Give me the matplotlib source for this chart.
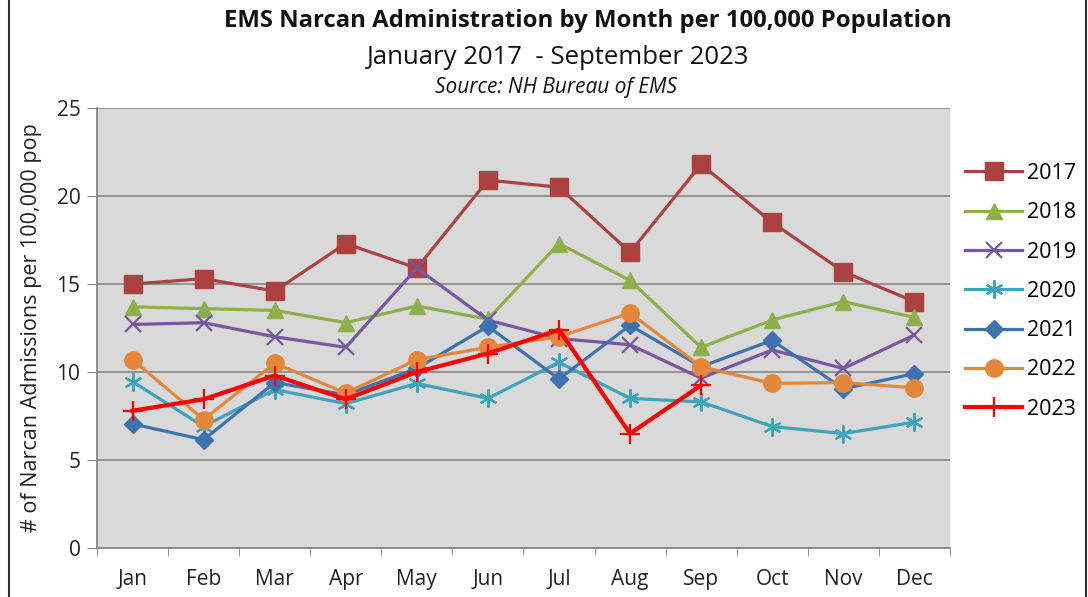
import matplotlib
matplotlib.use("Agg")
import matplotlib.pyplot as plt
from matplotlib.lines import Line2D

plt.rcParams['font.family'] = ['Open Sans', 'DejaVu Sans']

months = ['Jan', 'Feb', 'Mar', 'Apr', 'May', 'Jun', 'Jul', 'Aug', 'Sep', 'Oct', 'Nov', 'Dec']

y2017 = [15.0, 15.3, 14.6, 17.3, 15.9, 20.9, 20.5, 16.8, 21.8, 18.5, 15.7, 14.0]
y2018 = [13.7, 13.6, 13.5, 12.8, 13.75, 13.0, 17.3, 15.2, 11.4, 12.95, 14.0, 13.1]
y2019 = [12.7, 12.8, 12.0, 11.4, 15.9, 12.95, 11.9, 11.55, 9.65, 11.25, 10.2, 12.1]
y2020 = [9.45, 6.9, 9.0, 8.2, 9.35, 8.5, 10.55, 8.5, 8.3, 6.9, 6.5, 7.15]
y2021 = [7.05, 6.15, 9.4, 8.7, 10.2, 12.6, 9.6, 12.65, 10.3, 11.8, 9.05, 9.9]
y2022 = [10.7, 7.3, 10.5, 8.8, 10.7, 11.4, 12.0, 13.35, 10.3, 9.35, 9.4, 9.1]
y2023 = [7.8, 8.45, 9.8, 8.45, 10.0, 11.05, 12.4, 6.5, 9.25]

series = [
    ('2017', y2017, '#AC423F', 's', 12.5, 2.3),
    ('2018', y2018, '#8DB04A', '^', 12, 2.3),
    ('2019', y2019, '#7758A0', 'x', 11, 2.3),
    ('2020', y2020, '#3DA4BC', (6, 2, 0), 13, 2.3),
    ('2021', y2021, '#3D72B0', 'D', 9.5, 2.3),
    ('2022', y2022, '#E5873A', 'o', 12.5, 2.3),
    ('2023', y2023, '#FF0000', '+', 14, 3.0),
]

fig = plt.figure(figsize=(10.88, 5.97), dpi=100)
ax = fig.add_axes([0.0892, 0.0821, 0.7838, 0.737])
ax.set_facecolor('#D9D9D9')

x = list(range(len(months)))
for label, vals, color, marker, ms, lw in series:
    mew = 1.6 if marker in ('x', '+') or isinstance(marker, tuple) else 1
    ax.plot(x[:len(vals)], vals, color=color, lw=lw, marker=marker,
            markersize=ms, markeredgewidth=mew, markeredgecolor=color,
            markerfacecolor=color, label=label)

ax.set_xlim(-0.5, 11.5)
ax.set_ylim(0, 25)
ax.set_yticks(range(0, 26, 5))
ax.set_xticks(x)
ax.set_xticklabels(months)
ax.set_xticks([i - 0.5 for i in range(13)], minor=True)
ax.tick_params(axis='x', which='major', length=0, labelsize=15, pad=15, colors='#222222')
ax.tick_params(axis='x', which='minor', length=6, color='#868686')
ax.tick_params(axis='y', length=7, color='#868686', labelsize=15, colors='#222222', pad=5)
ax.grid(axis='y', color='#8C8C8C', lw=1.3)
ax.set_axisbelow(True)
for side in ('top', 'right'):
    ax.spines[side].set_visible(False)
for side in ('left', 'bottom'):
    ax.spines[side].set_color('#868686')
    ax.spines[side].set_linewidth(1.3)

ax.set_ylabel('# of Narcan Admissions per 100,000 pop', fontsize=15.5, color='#222222', labelpad=10)

leg = fig.legend(loc='upper left', bbox_to_anchor=(0.887, 0.727), frameon=False,
                 fontsize=15.5, handlelength=2.65, labelspacing=0.85, borderaxespad=0,
                 handletextpad=0.25, borderpad=0)

fig.text(0.54, 0.965, 'EMS Narcan Administration by Month per 100,000 Population',
         ha='center', va='center', fontsize=17.2, fontweight='bold', color='#111111')
fig.text(0.512, 0.903, 'January 2017  - September 2023', ha='center', va='center',
         fontsize=18.5, color='#111111')
fig.text(0.511, 0.853, 'Source: NH Bureau of EMS', ha='center', va='center',
         fontsize=15, style='italic', color='#111111')

for xf in (9 / 1088, 1086 / 1088):
    fig.add_artist(Line2D([xf, xf], [0, 1], transform=fig.transFigure,
                          color='#303030', lw=1.5))

fig.savefig('out.png', dpi=100)
